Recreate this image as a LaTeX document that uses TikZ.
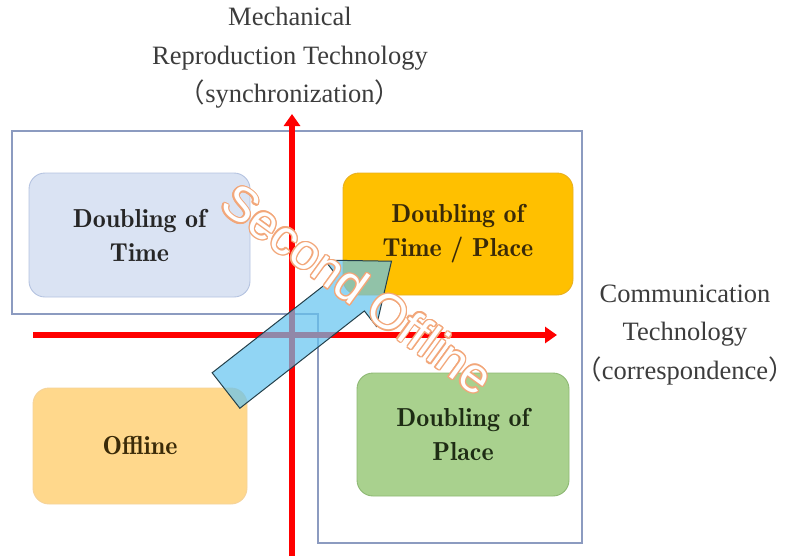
\documentclass[tikz,border=0pt]{standalone}
\usepackage{fontspec}
\newfontfamily\axisfont{Liberation Serif}
\newfontfamily\sofont{Liberation Sans}
\newfontfamily\cjkfont{Noto Sans CJK SC}
\newfontfamily\boxfont{lmromandemi10-regular.otf}
\usetikzlibrary{arrows.meta}
\definecolor{boxblue}{HTML}{DAE3F3}
\definecolor{boxblueD}{HTML}{B4C3E0}
\definecolor{boxgold}{HTML}{FFC000}
\definecolor{boxgoldD}{HTML}{E8B020}
\definecolor{boxorange}{HTML}{FFD88C}
\definecolor{boxorangeD}{HTML}{F5D39A}
\definecolor{boxgreen}{HTML}{A9D18E}
\definecolor{boxgreenD}{HTML}{8DB873}
\definecolor{frameblue}{HTML}{8C9BC0}
\definecolor{arrowblue}{HTML}{63C3F0}
\definecolor{arrowedge}{HTML}{24404A}
\definecolor{soorange}{HTML}{F2A77A}
\definecolor{axtext}{HTML}{3C3C3C}
\definecolor{txtbrown}{HTML}{3A2A08}
\definecolor{txtgreen}{HTML}{1E2C14}
\begin{document}
\begin{tikzpicture}[x=1pt,y=-1pt,
  quad/.style={draw, rounded corners=16pt, line width=0.9pt, align=center,
    font=\boxfont\fontsize{26}{34}\selectfont, text=black!85, inner sep=0pt},
  axislabel/.style={align=center, font=\axisfont\fontsize{26.5}{38.5}\selectfont, text=axtext},
  axisarrow/.style={draw=red, line width=6pt, -{Triangle[length=12pt,width=16pt]}},
  frame/.style={draw=frameblue, line width=1.3pt},
  blockarrow/.style={fill=arrowblue, fill opacity=0.7, draw=arrowedge, line width=1pt, line join=miter},
  sotext/.style={font=\sofont\fontsize{49}{49}\selectfont, rotate=-36, inner sep=0pt}
]
\useasboundingbox (0,0) rectangle (795,557);

% boxes
\node[quad, fill=boxblue, draw=boxblueD, minimum width=221pt, minimum height=124pt] (time) at (139.5,235) {Doubling of\\Time};
\node[quad, fill=boxgold, draw=boxgoldD, text=txtbrown, minimum width=230pt, minimum height=122pt] (timeplace) at (458,234) {Doubling of\\Time / Place};
\node[quad, fill=boxorange, draw=boxorangeD, text=txtbrown, minimum width=214pt, minimum height=116pt] (offline) at (140,446) {Offline};
\node[quad, fill=boxgreen, draw=boxgreenD, text=txtgreen, minimum width=212pt, minimum height=123pt] (place) at (463,434.5) {Doubling of\\Place};

% outline frame
\coordinate (f1) at (12,131);
\coordinate (f2) at (582,131);
\coordinate (f3) at (582,543);
\coordinate (f4) at (318,543);
\coordinate (f5) at (318,314);
\coordinate (f6) at (12,314);
\draw[frame] (f1) -- (f2) -- (f3) -- (f4) -- (f5) -- (f6) -- cycle;

% axes
\coordinate (vS) at (292,556);
\coordinate (vE) at (292,114);
\coordinate (hS) at (33,335);
\coordinate (hE) at (557,335);
\draw[axisarrow] (vS) -- (vE);
\draw[axisarrow] (hS) -- (hE);

% axis labels
\node[axislabel] (toplabel) at (290,58) {Mechanical\\Reproduction Technology\\{\cjkfont （}synchronization{\cjkfont ）}};
\node[axislabel] (rightlabel) at (685,335) {Communication\\Technology\\{\cjkfont （}correspondence{\cjkfont ）}};

% block arrow
\begin{scope}[shift={(226,390.5)}, rotate=38]
\draw[blockarrow] (0pt,-22.5pt) -- (158pt,-22.5pt) -- (158pt,-42pt) -- (210pt,0pt)
  -- (158pt,42pt) -- (158pt,22.5pt) -- (0pt,22.5pt) -- cycle;
\end{scope}

% Second Offline text
\foreach \a in {0,30,...,330} {
  \node[sotext, text=soorange, shift={(\a:1.4pt)}] (so-\a) at (358,289) {Second Offline};
}
\node[sotext, text=white] (so) at (358,289) {Second Offline};
\end{tikzpicture}
\end{document}
